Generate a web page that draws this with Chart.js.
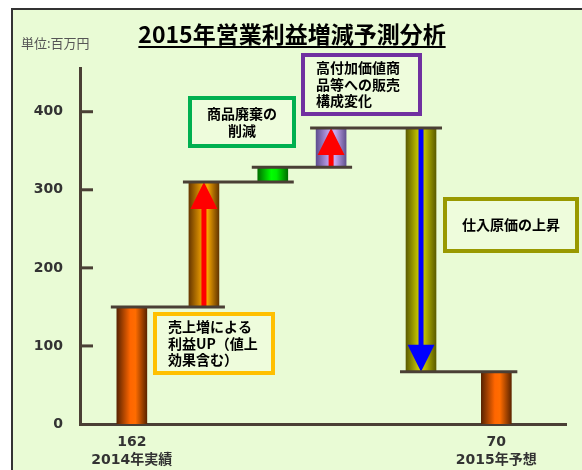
<!DOCTYPE html>
<html lang="ja">
<head>
<meta charset="UTF-8">
<title>2015年営業利益増減予測分析</title>
<script src="https://cdn.jsdelivr.net/npm/chart.js@4.4.1/dist/chart.umd.min.js"></script>
<style>
  html, body { margin: 0; padding: 0; background: #fff; }
</style>
</head>
<body>
<canvas id="bridge" width="582" height="470"></canvas>
<script>
// bridge steps, values (百万円)
const steps  = ['2014年実績', '売上増', '商品廃棄の削減', '販売構成変化', '仕入原価の上昇', '2015年予想'];
const slots  = [0.64, 1.53, 2.38, 3.10, 4.21, 5.14];
const lows   = [0, 150, 310, 329, 67, 0];
const highs  = [150, 310, 329, 379, 379, 67];
const arrows = ['', 'up', '', 'up', 'down', ''];
const totalIdx    = [0, 5];
const totalValues = ['162', '70'];
const yTicks = [0, 100, 200, 300, 400];
const notes = [
  ['商品廃棄の', '削減'],
  ['高付加価値商', '品等への販売', '構成変化'],
  ['仕入原価の上昇'],
  ['売上増による', '利益UP（値上', '効果含む）']
];

const JP = '"Noto Sans CJK JP", "DejaVu Sans", sans-serif';
const NUM = '"DejaVu Sans", "Noto Sans CJK JP", sans-serif';
const LINE = '#4a3f35';

// cylinder shading per bar
const shades = [
  ['#5a2300', '#ff6600', '#ff6c00', '#5e2500'],
  ['#683800', '#f0a000', '#f5a500', '#643600'],
  ['#007000', '#00ff00', '#00f000', '#007000'],
  ['#5e4e90', '#c4a6f0', '#c8aaf2', '#62528f'],
  ['#5c5c00', '#d0d000', '#bcbc00', '#5c5c00'],
  ['#5a2300', '#ff6600', '#ff6c00', '#5e2500']
];

function barFill(c) {
  const chart = c.chart;
  const i = c.dataIndex;
  if (i == null || !chart.chartArea) return shades[0][1];
  const cx = chart.scales.x.getPixelForValue(slots[i]);
  const g = chart.ctx.createLinearGradient(cx - 15, 0, cx + 15, 0);
  const s = shades[i];
  g.addColorStop(0, s[0]);
  g.addColorStop(0.45, s[1]);
  g.addColorStop(0.62, s[2]);
  g.addColorStop(1, s[3]);
  return g;
}

function box(ctx, x, y, w, h, color, lines, align) {
  ctx.save();
  ctx.fillStyle = '#eefcdc';
  ctx.fillRect(x, y, w, h);
  ctx.strokeStyle = color;
  ctx.lineWidth = 4;
  ctx.strokeRect(x, y, w, h);
  ctx.fillStyle = '#000';
  ctx.font = 'bold 14px ' + JP;
  ctx.textBaseline = 'middle';
  ctx.textAlign = align;
  const lh = 16.5;
  const y0 = y + h / 2 - (lines.length - 1) * lh / 2;
  const tx = align === 'center' ? x + w / 2 : x + 13;
  lines.forEach((t, k) => ctx.fillText(t, tx, y0 + k * lh));
  ctx.restore();
}

const decor = {
  id: 'decor',
  beforeDraw(chart) {
    const ctx = chart.ctx;
    ctx.save();
    ctx.fillStyle = '#ffffff';
    ctx.fillRect(0, 0, chart.width, chart.height);
    ctx.fillStyle = '#e9fbd5';
    ctx.fillRect(13, 10, chart.width - 13, chart.height - 10);
    ctx.strokeStyle = '#333';
    ctx.lineWidth = 2;
    ctx.beginPath();
    ctx.moveTo(12, chart.height);
    ctx.lineTo(12, 9);
    ctx.lineTo(chart.width, 9);
    ctx.stroke();
    ctx.restore();
  },
  afterDatasetsDraw(chart) {
    const ctx = chart.ctx;
    const xs = chart.scales.x, ys = chart.scales.y;
    const bars = chart.getDatasetMeta(0).data;
    ctx.save();

    // arrows inside the change bars
    bars.forEach((el, i) => {
      if (!arrows[i]) return;
      const top = ys.getPixelForValue(Math.max(lows[i], highs[i]));
      const bot = ys.getPixelForValue(Math.min(lows[i], highs[i]));
      const cx = el.x;
      ctx.fillStyle = arrows[i] === 'up' ? '#ff0000' : '#0000ff';
      ctx.beginPath();
      if (arrows[i] === 'up') {
        ctx.moveTo(cx, top);
        ctx.lineTo(cx + 13.5, top + 27);
        ctx.lineTo(cx + 2.5, top + 27);
        ctx.lineTo(cx + 2.5, bot);
        ctx.lineTo(cx - 2.5, bot);
        ctx.lineTo(cx - 2.5, top + 27);
        ctx.lineTo(cx - 13.5, top + 27);
      } else {
        ctx.moveTo(cx, bot);
        ctx.lineTo(cx + 13.5, bot - 27);
        ctx.lineTo(cx + 2.5, bot - 27);
        ctx.lineTo(cx + 2.5, top);
        ctx.lineTo(cx - 2.5, top);
        ctx.lineTo(cx - 2.5, bot - 27);
        ctx.lineTo(cx - 13.5, bot - 27);
      }
      ctx.closePath();
      ctx.fill();
    });

    // connector lines between neighbouring bars
    ctx.strokeStyle = LINE;
    ctx.lineWidth = 3;
    for (let i = 0; i < bars.length - 1; i++) {
      const a = [lows[i], highs[i]];
      const level = [lows[i + 1], highs[i + 1]].find(v => a.includes(v));
      if (level === undefined) continue;
      const y = ys.getPixelForValue(level);
      ctx.beginPath();
      ctx.moveTo(bars[i].x - bars[i].width / 2 - 6, y);
      ctx.lineTo(bars[i + 1].x + bars[i + 1].width / 2 + 6, y);
      ctx.stroke();
    }

    // tick marks pointing into the plot
    yTicks.forEach(v => {
      if (v === 0) return;
      const y = ys.getPixelForValue(v);
      ctx.beginPath();
      ctx.moveTo(xs.left, y);
      ctx.lineTo(xs.left + 13, y);
      ctx.stroke();
    });

    // call-out boxes
    box(ctx, 190, 98, 104, 48, '#00b050', notes[0], 'center');
    box(ctx, 303, 55, 117, 59, '#7030a0', notes[1], 'left');
    box(ctx, 445, 199, 132, 52, '#999900', notes[2], 'center');
    box(ctx, 155, 314, 118, 59, '#ffc000', notes[3], 'left');

    // title + unit
    ctx.fillStyle = '#000';
    ctx.font = 'bold 23px ' + JP;
    ctx.textAlign = 'center';
    ctx.textBaseline = 'middle';
    const title = '2015年営業利益増減予測分析';
    const tw = ctx.measureText(title).width;
    ctx.fillText(title, 292, 34);
    ctx.strokeStyle = '#000';
    ctx.lineWidth = 2;
    ctx.beginPath();
    ctx.moveTo(292 - tw / 2, 47);
    ctx.lineTo(292 + tw / 2, 47);
    ctx.stroke();

    ctx.fillStyle = '#555';
    ctx.font = '13px ' + JP;
    ctx.textAlign = 'left';
    ctx.fillText('単位:百万円', 21, 43);
    ctx.restore();
  }
};

new Chart(document.getElementById('bridge'), {
  type: 'bar',
  data: {
    labels: steps,
    datasets: [{
      data: slots.map((x, i) => ({ x: x, y: [lows[i], highs[i]] })),
      backgroundColor: barFill,
      borderWidth: 0,
      barThickness: 30
    }]
  },
  options: {
    responsive: false,
    animation: false,
    layout: { padding: { top: 68, right: 16, left: 0, bottom: 0 } },
    plugins: {
      legend: { display: false },
      tooltip: { enabled: false },
      title: { display: false }
    },
    scales: {
      x: {
        type: 'linear',
        min: 0,
        max: 6,
        offset: false,
        grid: { display: false, drawTicks: false, offset: false },
        border: { display: true, color: LINE, width: 3 },
        afterBuildTicks: s => { s.ticks = totalIdx.map(i => ({ value: slots[i] })); },
        afterFit: s => { s.height = 46; },
        ticks: {
          autoSkip: false,
          maxRotation: 0,
          padding: 9,
          color: '#333',
          font: { family: NUM, size: 14, weight: 'bold', lineHeight: 1.3 },
          callback: (v, k) => [totalValues[k], steps[totalIdx[k]]]
        }
      },
      y: {
        min: 0,
        max: 456,
        grid: { display: false, drawTicks: false },
        border: { display: true, color: LINE, width: 3 },
        afterBuildTicks: s => { s.ticks = yTicks.map(v => ({ value: v })); },
        afterFit: s => { s.width = 80; },
        ticks: {
          padding: 17,
          color: '#333',
          font: { family: NUM, size: 14, weight: 'bold' }
        }
      }
    }
  },
  plugins: [decor]
});
</script>
</body>
</html>
